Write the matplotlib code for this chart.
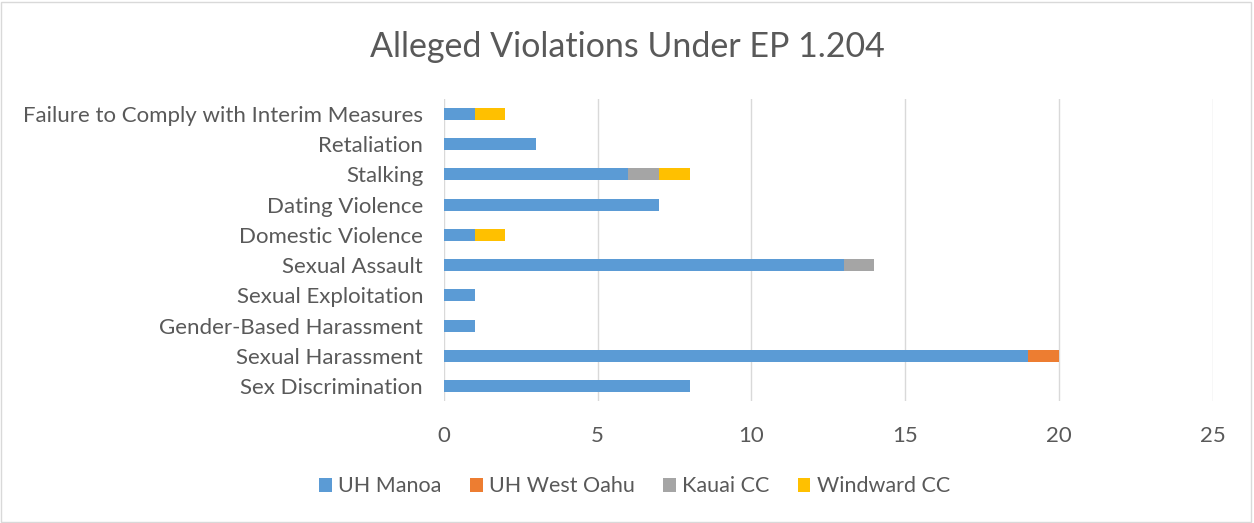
import matplotlib.pyplot as plt
import numpy as np

plt.rcParams['font.family'] = ['Lato', 'DejaVu Sans']

categories = ["Sex Discrimination", "Sexual Harassment", "Gender-Based Harassment",
              "Sexual Exploitation", "Sexual Assault", "Domestic Violence",
              "Dating Violence", "Stalking", "Retaliation",
              "Failure to Comply with Interim Measures"]
manoa = [8, 19, 1, 1, 13, 1, 7, 6, 3, 1]
west_oahu = [0, 1, 0, 0, 0, 0, 0, 0, 0, 0]
kauai = [0, 0, 0, 0, 1, 0, 0, 1, 0, 0]
windward = [0, 0, 0, 0, 0, 1, 0, 1, 0, 1]
series_names = ["UH Manoa", "UH West Oahu", "Kauai CC", "Windward CC"]
colors = ["#5B9BD5", "#ED7D31", "#A5A5A5", "#FFC000"]

fig = plt.figure(figsize=(12.54, 5.23), dpi=100)
ax = fig.add_axes([0.354, 0.233, 0.613, 0.578])

y = np.arange(len(categories))
left = np.zeros(len(categories))
for vals, name, c in zip([manoa, west_oahu, kauai, windward], series_names, colors):
    ax.barh(y, vals, left=left, height=0.4, color=c, label=name, zorder=3)
    left += np.array(vals)

ax.set_xlim(0, 25)
ax.set_ylim(-0.5, len(categories) - 0.5)
ax.set_xticks(range(0, 26, 5))
ax.set_yticks(y)
ax.set_yticklabels(categories)
ax.grid(axis='x', color='#D9D9D9', linewidth=1, zorder=0)
for s in ax.spines.values():
    s.set_visible(False)
ax.tick_params(length=0, labelsize=16, colors='#595959')
ax.tick_params(axis='x', pad=18)
ax.tick_params(axis='y', pad=15)

fig.suptitle("Alleged Violations Under EP 1.204", y=0.94, fontsize=24.5, color='#595959')
fig.legend(loc='center', bbox_to_anchor=(0.506, 0.07), ncol=4, frameon=False,
           fontsize=15.5, handlelength=0.6, handleheight=0.6, columnspacing=1.3,
           handletextpad=0.3, labelcolor='#595959')

fig.patches.append(plt.Rectangle((0.001, 0.002), 0.997, 0.995, transform=fig.transFigure,
                                 fill=False, edgecolor='#D9D9D9', linewidth=1))

fig.savefig("out.png", dpi=100)
